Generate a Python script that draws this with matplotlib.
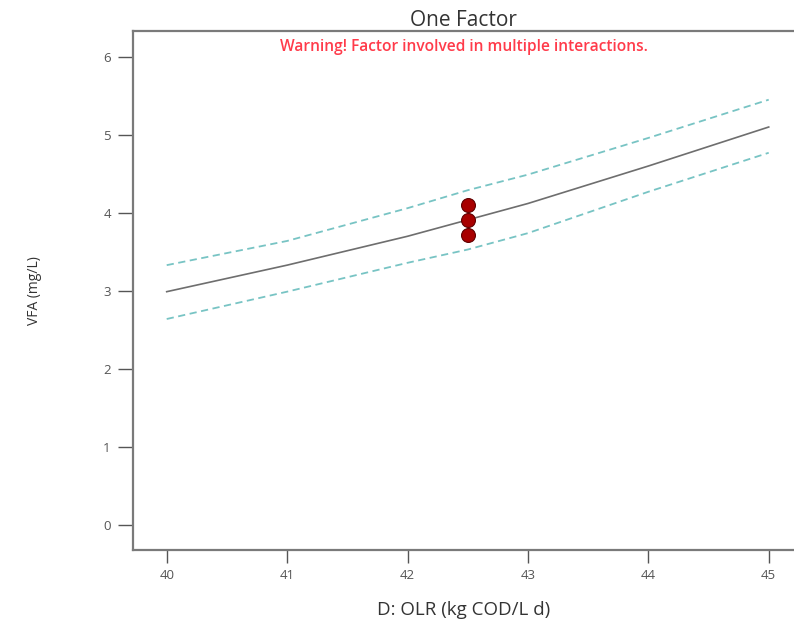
import matplotlib

matplotlib.use("Agg")
import matplotlib.pyplot as plt

# --- values ---
olr = [40, 41, 42, 42.5, 43, 44, 45]
vfa_fit = [2.99, 3.33, 3.70, 3.91, 4.12, 4.60, 5.10]
vfa_upper = [3.33, 3.64, 4.06, 4.29, 4.49, 4.96, 5.45]
vfa_lower = [2.64, 2.99, 3.36, 3.53, 3.74, 4.27, 4.77]

pts_x = [42.5, 42.5, 42.5]
pts_y = [4.10, 3.91, 3.71]

xticks = [40, 41, 42, 43, 44, 45]
yticks = [0, 1, 2, 3, 4, 5, 6]

plt.rcParams["font.family"] = ["Open Sans", "DejaVu Sans"]
GREY = "#7a7a7a"

fig = plt.figure(figsize=(7.94, 6.28), dpi=100)
ax = fig.add_axes([0.1675, 0.1242, 0.8325, 0.8264])

ax.plot(olr, vfa_upper, ls=(0, (4, 2.5)), lw=1.3, color="#78c4c4")
ax.plot(olr, vfa_lower, ls=(0, (4, 2.5)), lw=1.3, color="#78c4c4")
ax.plot(olr, vfa_fit, lw=1.2, color="#6e6e6e")
ax.plot(pts_x, pts_y, "o", ms=10, color="#a80000", mec="#600000", mew=0.8,
        ls="none", zorder=5)

ax.set_xlim(39.72, 45.21)
ax.set_ylim(-0.32, 6.33)
ax.set_xticks(xticks)
ax.set_yticks(yticks)

ax.spines["right"].set_visible(False)
for side in ("left", "bottom", "top"):
    ax.spines[side].set_color(GREY)
    ax.spines[side].set_linewidth(1.6)

ax.tick_params(axis="y", length=11, width=1, color="#555555", pad=5,
               labelsize=9.5, labelcolor="#555555")
ax.tick_params(axis="x", length=9, width=1, color="#555555", pad=5,
               labelsize=9.5, labelcolor="#555555")

ax.set_title("One Factor", fontsize=15, color="#333333", pad=3)
ax.text(0.5, 0.985, "Warning! Factor involved in multiple interactions.",
        transform=ax.transAxes, ha="center", va="top", fontsize=11.2,
        fontweight="semibold", color="#ff3b4a")
ax.set_xlabel("D: OLR (kg COD/L d)", fontsize=13.5, color="#333333",
              labelpad=13)
ax.set_ylabel("VFA (mg/L)", fontsize=10, color="#333333", labelpad=44)

fig.savefig("out.png", dpi=100)
